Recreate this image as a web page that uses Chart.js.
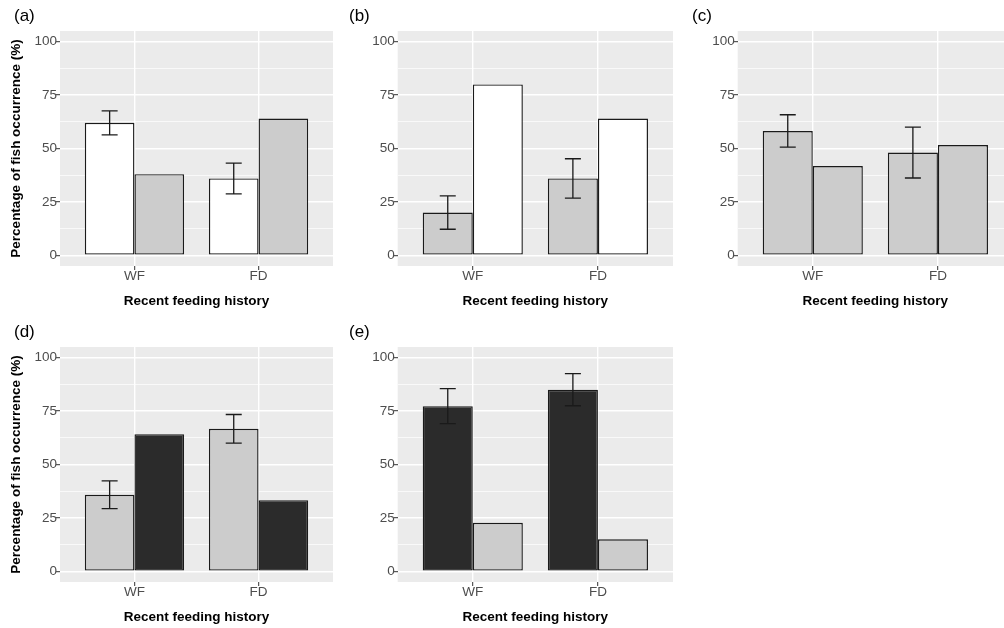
<!DOCTYPE html>
<html>
<head>
<meta charset="utf-8">
<script src="https://cdn.jsdelivr.net/npm/chart.js@4"></script>
<style>
  html, body { margin: 0; padding: 0; background: #fff; overflow: hidden; width: 1004px; height: 628px; position: relative; }
  canvas { position: absolute; }
</style>
</head>
<body>
<canvas id="panel-a" width="340" height="316" style="left:0;top:0"></canvas>
<canvas id="panel-b" width="340" height="316" style="left:340px;top:0"></canvas>
<canvas id="panel-c" width="340" height="316" style="left:680px;top:0"></canvas>
<canvas id="panel-d" width="340" height="316" style="left:0;top:316px"></canvas>
<canvas id="panel-e" width="340" height="316" style="left:340px;top:316px"></canvas>
<script>
// Datos
const categories = ["WF", "FD"];
const yMajor = [0, 25, 50, 75, 100];
const yMinor = [12.5, 37.5, 62.5, 87.5];

const aFirst = [62, 36];
const aFirstErr = [5.6, 7.2];
const aSecond = [38, 64];

const bFirst = [20, 36];
const bFirstErr = [7.8, 9.2];
const bSecond = [80, 64];

const cFirst = [58.2, 48.1];
const cFirstErr = [7.6, 11.9];
const cSecond = [41.8, 51.6];

const dFirst = [35.8, 66.7];
const dFirstErr = [6.5, 6.7];
const dSecond = [64.2, 33.3];

const eFirst = [77.3, 85.0];
const eFirstErr = [8.2, 7.5];
const eSecond = [22.7, 15.0];

// Colores
const WHITE = "#ffffff";
const LIGHT = "#cccccc";
const DARK = "#2b2b2b";
const FONT = "'Liberation Sans', Arial, sans-serif";

// Fondo gris del panel
const panelBg = {
  id: "panelBg",
  beforeDraw(chart) {
    const { ctx, chartArea } = chart;
    ctx.save();
    ctx.fillStyle = "#ebebeb";
    ctx.fillRect(chartArea.left, chartArea.top, chartArea.right - chartArea.left, chartArea.bottom - chartArea.top);
    ctx.restore();
  },
};

// Barras de error
const errorBars = {
  id: "errorBars",
  afterDatasetsDraw(chart) {
    const { ctx } = chart;
    const yScale = chart.scales.y;
    chart.data.datasets.forEach((ds, di) => {
      if (!ds.errors) return;
      const meta = chart.getDatasetMeta(di);
      meta.data.forEach((bar, i) => {
        const v = ds.data[i].y;
        const e = ds.errors[i];
        const top = yScale.getPixelForValue(v + e);
        const bot = yScale.getPixelForValue(v - e);
        ctx.save();
        ctx.strokeStyle = "#1a1a1a";
        ctx.lineWidth = 1.3;
        ctx.beginPath();
        ctx.moveTo(bar.x, top);
        ctx.lineTo(bar.x, bot);
        ctx.moveTo(bar.x - 8, top);
        ctx.lineTo(bar.x + 8, top);
        ctx.moveTo(bar.x - 8, bot);
        ctx.lineTo(bar.x + 8, bot);
        ctx.stroke();
        ctx.restore();
      });
    });
  },
};

// Etiqueta del panel: (a), (b)...
const panelTag = {
  id: "panelTag",
  afterDraw(chart, args, opts) {
    const { ctx } = chart;
    ctx.save();
    ctx.fillStyle = "#000";
    ctx.font = "17px " + FONT;
    ctx.textBaseline = "middle";
    ctx.fillText(opts.text, opts.x, 16.5);
    ctx.restore();
  },
};

const toPoints = (values) => values.map((v, i) => ({ x: i + 1, y: v }));

const makePanel = (id, tag, tagX, first, firstErr, second, colors, showYTitle, axisWidth) => {
  const ctx = document.querySelector(id).getContext("2d");
  new Chart(ctx, {
    type: "bar",
    data: {
      datasets: [
        {
          data: toPoints(first),
          errors: firstErr,
          backgroundColor: colors[0],
        },
        {
          data: toPoints(second),
          backgroundColor: colors[1],
        },
      ],
    },
    options: {
      responsive: false,
      animation: false,
      devicePixelRatio: 1,
      layout: { padding: { top: 31, right: 7, bottom: 0, left: 0 } },
      datasets: {
        bar: {
          categoryPercentage: 0.8,
          barPercentage: 1.0,
          borderColor: "#1a1a1a",
          borderWidth: 1.4,
          borderSkipped: false,
        },
      },
      scales: {
        x: {
          type: "linear",
          min: 0.4,
          max: 2.6,
          offset: false,
          afterBuildTicks: (s) => {
            s.ticks = categories.map((c, i) => ({ value: i + 1 }));
          },
          afterFit: (s) => {
            s.height = 50;
          },
          ticks: {
            callback: (v) => categories[v - 1],
            color: "#4d4d4d",
            font: { family: FONT, size: 13.5 },
            padding: -2,
            maxRotation: 0,
          },
          grid: { offset: false, color: "#ffffff", lineWidth: 1.4, tickColor: "#333333", tickLength: 4, tickWidth: 1 },
          border: { display: false },
          title: {
            display: true,
            text: "Recent feeding history",
            color: "#000",
            font: { family: FONT, size: 13.5, weight: "bold" },
            padding: { top: 0, bottom: 7 },
          },
        },
        y: {
          min: -5,
          max: 105,
          afterBuildTicks: (s) => {
            s.ticks = [...yMajor, ...yMinor].sort((p, q) => p - q).map((v) => ({ value: v }));
          },
          afterFit: (s) => {
            s.width = axisWidth;
          },
          ticks: {
            autoSkip: false,
            callback: (v) => (yMajor.includes(v) ? String(v) : ""),
            color: "#4d4d4d",
            font: { family: FONT, size: 13.5 },
            padding: -1,
          },
          grid: {
            color: "#ffffff",
            lineWidth: (c) => (yMajor.includes(c.tick.value) ? 1.4 : 0.7),
            tickColor: (c) => (yMajor.includes(c.tick.value) ? "#333333" : "rgba(0,0,0,0)"),
            tickLength: 4,
            tickWidth: 1,
          },
          border: { display: false },
          title: {
            display: showYTitle,
            text: "Percentage of fish occurrence (%)",
            color: "#000",
            font: { family: FONT, size: 13.5, weight: "bold" },
            padding: { top: 8, bottom: 0 },
          },
        },
      },
      plugins: {
        legend: { display: false },
        tooltip: { enabled: false },
        panelTag: { text: tag, x: tagX },
      },
    },
    plugins: [panelBg, errorBars, panelTag],
  });
};

makePanel("#panel-a", "(a)", 14, aFirst, aFirstErr, aSecond, [WHITE, LIGHT], true, 60);
makePanel("#panel-b", "(b)", 9, bFirst, bFirstErr, bSecond, [LIGHT, WHITE], false, 57.7);
makePanel("#panel-c", "(c)", 12, cFirst, cFirstErr, cSecond, [LIGHT, LIGHT], false, 57.7);
makePanel("#panel-d", "(d)", 14, dFirst, dFirstErr, dSecond, [LIGHT, DARK], true, 60);
makePanel("#panel-e", "(e)", 9, eFirst, eFirstErr, eSecond, [DARK, LIGHT], false, 57.7);
</script>
</body>
</html>
